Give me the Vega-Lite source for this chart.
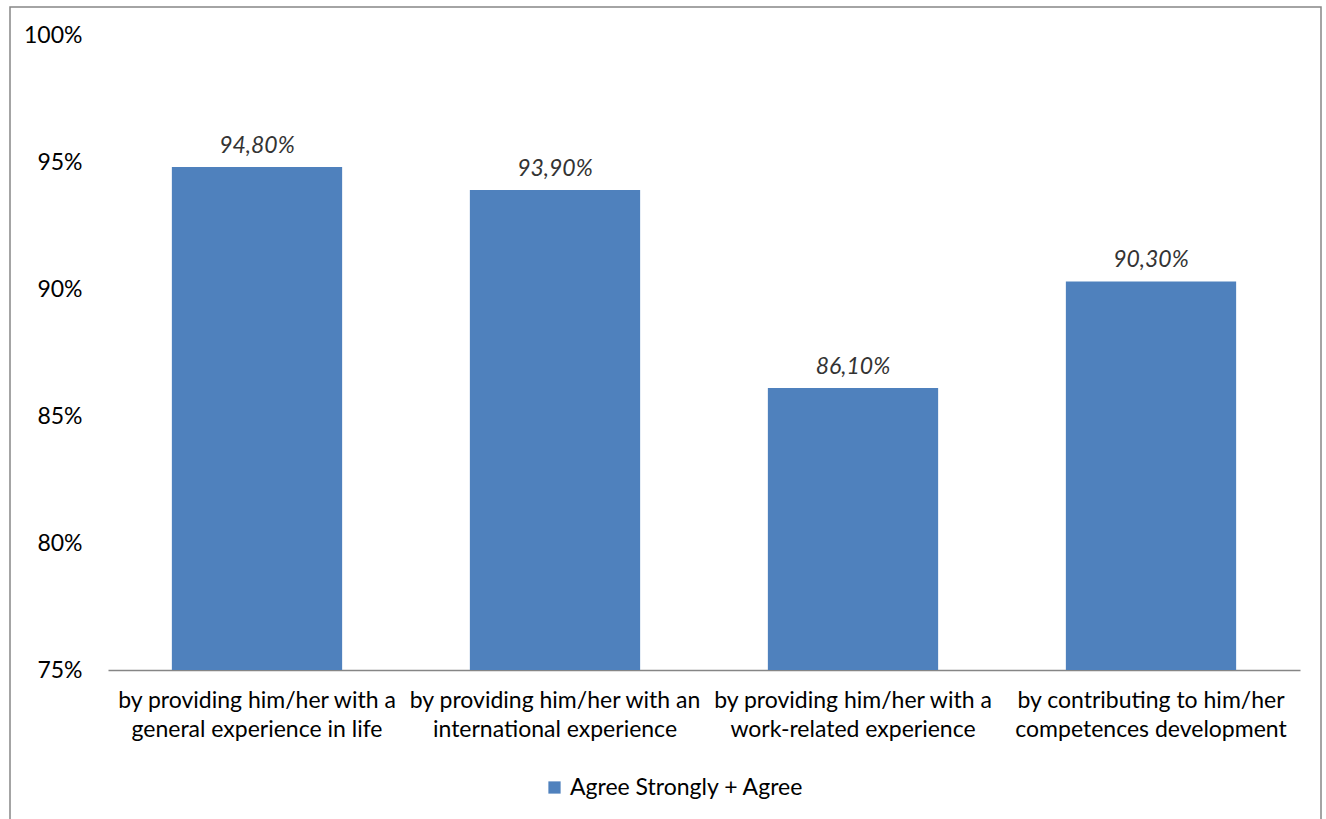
{
  "$schema": "https://vega.github.io/schema/vega-lite/v6.json",
  "autosize": "none",
  "padding": {"left": 10, "top": 7, "right": 5, "bottom": 0},
  "width": 1311,
  "height": 830,
  "data": {
    "values": [
      {"category": "by providing him/her with a|general experience in life", "value": 0.948, "series": "Agree Strongly + Agree"},
      {"category": "by providing him/her with an|international experience", "value": 0.939, "series": "Agree Strongly + Agree"},
      {"category": "by providing him/her  with a|work-related experience", "value": 0.861, "series": "Agree Strongly + Agree"},
      {"category": "by contributing to him/her|competences development", "value": 0.903, "series": "Agree Strongly + Agree"}
    ]
  },
  "encoding": {
    "x": {
      "field": "category",
      "type": "nominal",
      "sort": null,
      "scale": {"range": [98, 1290], "paddingInner": 0.4286, "paddingOuter": 0.2143},
      "axis": {
        "title": null,
        "labelExpr": "split(datum.label, '|')",
        "labelAngle": 0,
        "labelFontSize": 23,
        "labelLineHeight": 29,
        "labelPadding": 19,
        "labelLimit": 0,
        "labelColor": "#000000",
        "ticks": false,
        "domainColor": "#868686",
        "domainWidth": 1.5,
        "offset": -167
      }
    },
    "y": {
      "field": "value",
      "type": "quantitative",
      "scale": {"domain": [0.75, 1.0], "range": [663, 28], "zero": false, "nice": false},
      "axis": {
        "title": null,
        "values": [0.75, 0.8, 0.85, 0.9, 0.95, 1.0],
        "format": ".0%",
        "domain": false,
        "ticks": false,
        "grid": false,
        "labelFontSize": 23,
        "labelColor": "#000000",
        "labelPadding": 26,
        "offset": -98
      }
    }
  },
  "layer": [
    {
      "mark": {"type": "bar"},
      "encoding": {
        "y2": {"datum": 0.75},
        "color": {
          "field": "series",
          "type": "nominal",
          "scale": {"range": ["#4F81BD"]},
          "legend": {
            "title": null,
            "orient": "none",
            "legendX": 533,
            "legendY": 769,
            "symbolType": "square",
            "symbolSize": 150,
            "symbolStrokeWidth": 0,
            "labelFontSize": 23,
            "labelColor": "#000000",
            "labelLimit": 0
          }
        }
      }
    },
    {
      "mark": {"type": "text", "fontStyle": "italic", "fontSize": 23, "baseline": "bottom", "dy": -9, "color": "#333333"},
      "encoding": {
        "text": {"field": "value", "type": "quantitative", "format": ".2%"}
      }
    }
  ],
  "config": {
    "font": "Lato",
    "view": {"stroke": "#868686", "strokeWidth": 1.5},
    "locale": {"number": {"decimal": ",", "thousands": ".", "grouping": [3], "currency": ["", " €"]}}
  }
}
